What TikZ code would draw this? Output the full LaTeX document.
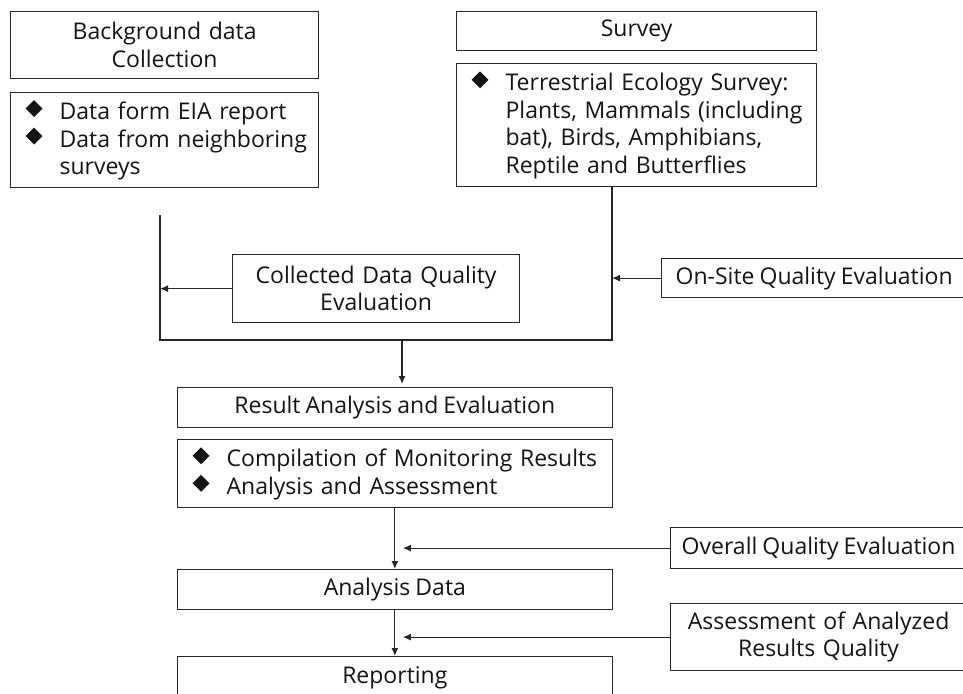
\documentclass[tikz,border=0pt]{standalone}
\usepackage{fontspec}
\setmainfont[WordSpace=0.85]{Open Sans}
\usepackage{graphicx}
\usetikzlibrary{arrows.meta}
\hyphenpenalty=10000
\exhyphenpenalty=10000
\newcommand{\bul}{\raisebox{2.5pt}{\rotatebox{45}{\rule{12pt}{12pt}}}}
\newcommand{\bitem}[1]{\noindent\hangindent=49pt\hangafter=1\hspace*{15pt}\makebox[34pt][l]{\bul}#1\par}
\begin{document}
\begin{tikzpicture}[x=1pt,y=-1pt,
  font=\fontsize{23pt}{27.5pt}\selectfont,
  box/.style={draw=black!85, line width=1.2pt, inner sep=0pt, anchor=north west, text=black!92},
  conn/.style={draw=black!85, line width=1.2pt},
  arr/.style={conn, -{Latex[length=8pt,width=7pt]}}]
\useasboundingbox (0,0) rectangle (963,693);
\clip (0,0) rectangle (963,693);
\fill[white] (0,0) rectangle (963,693);

% top left
\node[box, minimum width=308pt, minimum height=67pt, text width=308pt, align=center] (bgt) at (10,11) {Background data\\Collection};
\node[box, minimum width=308pt, minimum height=95pt, text width=308pt, align=left] (bgl) at (10,92) {\bitem{Data form EIA report}\bitem{Data from neighboring surveys}};

% top right
\node[box, minimum width=360pt, minimum height=39pt] (svt) at (456,11) {Survey};
\node[box, minimum width=360pt, minimum height=123pt, text width=360pt, align=left] (svl) at (456,63) {\bitem{Terrestrial Ecology Survey: Plants, Mammals (including bat), Birds, Amphibians, Reptile and Butterflies}};

% quality boxes
\node[box, minimum width=287pt, minimum height=68pt, text width=287pt, align=center] (cq) at (232,254) {Collected Data Quality\\Evaluation};
\node[box, minimum width=305pt, minimum height=39pt] (os) at (661,258) {On-Site Quality Evaluation};

% main column
\node[box, minimum width=434.5pt, minimum height=40pt] (ra) at (177,387) {Result Analysis and Evaluation};
\node[box, minimum width=434.5pt, minimum height=68pt, text width=434.5pt, align=left] (cp) at (177,439) {\bitem{Compilation of Monitoring Results}\bitem{Analysis and Assessment}};
\node[box, minimum width=434.5pt, minimum height=40pt] (ad) at (177,569) {Analysis Data};
\node[box, minimum width=434.5pt, minimum height=42pt] (rp) at (177,656) {Reporting};

% right quality boxes
\node[box, minimum width=296pt, minimum height=41pt] (ov) at (670,527) {Overall Quality Evaluation};
\node[box, minimum width=296pt, minimum height=67pt, text width=296pt, align=center] (as) at (670,603) {Assessment of Analyzed\\Results Quality};

% connectors
\coordinate (lt) at (160,215);
\coordinate (bl) at (160,340);
\coordinate (br) at (612,340);
\coordinate (jm) at (402,340);
\draw[conn] (lt) -- (bl) -- (br) -- (br |- svl.south);
\draw[arr] (cq.west) -- (cq.west -| bl);
\draw[arr] (os.west) -- (os.west -| br);
\draw[arr, shorten >=3pt] (jm) -- (jm |- ra.north);
\draw[arr] (cp.south) -- (ad.north);
\draw[arr] (ov.west) -- ([xshift=8pt]ov.west -| cp.south);
\draw[arr] (ad.south) -- (rp.north);
\draw[arr] (as.west) -- ([xshift=8pt]as.west -| ad.south);
\end{tikzpicture}
\end{document}
